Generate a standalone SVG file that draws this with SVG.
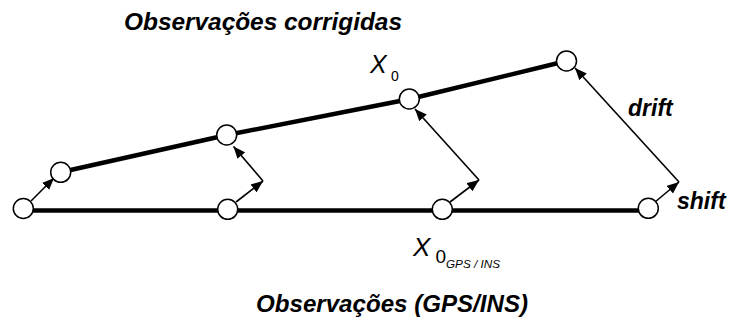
<svg xmlns="http://www.w3.org/2000/svg" width="729" height="320" viewBox="0 0 729 320">
<defs>
<marker id="ah" viewBox="0 0 12 10" refX="12" refY="5" markerWidth="12" markerHeight="10" markerUnits="userSpaceOnUse" orient="auto">
<path d="M0,0 L12,5 L0,10 Z" fill="#000"/>
</marker>
</defs>
<style>
.obs{fill:none;stroke:#000;stroke-width:4.5}
.arr{fill:none;stroke:#000;stroke-width:1.6}
.arr.h{marker-end:url(#ah)}
.node circle{fill:#fff;stroke:#000;stroke-width:1.5}
.title{font-family:"Liberation Sans",Arial,sans-serif;font-weight:bold;font-style:italic;font-size:24.5px;fill:#000}
.lab{font-family:"Liberation Sans",Arial,sans-serif;font-style:italic;fill:#000}
.num{font-family:"Liberation Sans",Arial,sans-serif;font-style:normal;fill:#000}
.blab{font-family:"Liberation Sans",Arial,sans-serif;font-weight:bold;font-style:italic;font-size:23px;fill:#000}
</style>
<rect width="729" height="320" fill="#fff"/>
<g id="lines">
<polyline class="obs" points="23,210.5 648,210.5"/>
<polyline class="obs" points="60.5,172.3 227,135 410,99 566.5,61"/>
</g>
<g id="connectors">
<line class="arr h" x1="31" y1="201" x2="54" y2="178"/>
<line class="arr h" x1="236" y1="202" x2="263" y2="181"/>
<line class="arr h" x1="263" y1="181" x2="233.5" y2="146.5"/>
<line class="arr h" x1="450" y1="202" x2="479" y2="180"/>
<line class="arr h" x1="479" y1="180" x2="415" y2="109"/>
<line class="arr h" x1="655" y1="202" x2="679" y2="182"/>
<line class="arr h" x1="679" y1="182" x2="575" y2="68"/>
</g>
<g id="n_b1" class="node"><circle cx="23.3" cy="208.5" r="10"/></g>
<g id="n_b2" class="node"><circle cx="227.7" cy="209.3" r="10"/></g>
<g id="n_b3" class="node"><circle cx="442.3" cy="209.3" r="10"/></g>
<g id="n_b4" class="node"><circle cx="648.3" cy="208.3" r="10"/></g>
<g id="n_t1" class="node"><circle cx="60.7" cy="172.3" r="10"/></g>
<g id="n_t2" class="node"><circle cx="226.7" cy="135" r="10"/></g>
<g id="n_t3" class="node"><circle cx="409.3" cy="99" r="10"/></g>
<g id="n_t4" class="node"><circle cx="566.5" cy="61" r="10"/></g>
<g id="labels">
<text class="title" x="124" y="30" textLength="278" lengthAdjust="spacingAndGlyphs">Observações corrigidas</text>
<text class="title" x="256" y="311.5" textLength="272" lengthAdjust="spacingAndGlyphs">Observações (GPS/INS)</text>
<text class="lab" x="370" y="73" font-size="25">X</text>
<text class="num" x="391" y="80.7" font-size="14">0</text>
<text class="lab" x="413" y="256" font-size="26">X</text>
<text class="num" x="435.5" y="262.7" font-size="19">0</text>
<text class="lab" x="446" y="267.5" font-size="11.5" textLength="54" lengthAdjust="spacingAndGlyphs">GPS / INS</text>
<text class="blab" x="628" y="116">drift</text>
<text class="blab" x="677" y="208.5">shift</text>
</g>
</svg>
